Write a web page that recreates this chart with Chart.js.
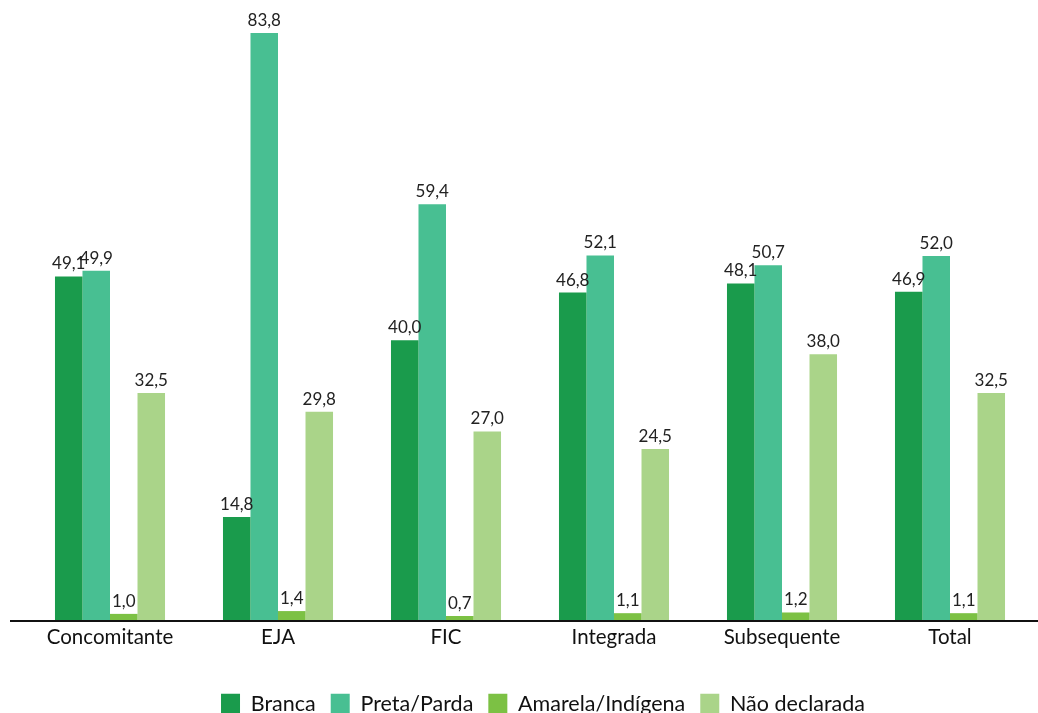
<!DOCTYPE html>
<html>
<head>
<meta charset="utf-8">
<script src="https://cdn.jsdelivr.net/npm/chart.js@4"></script>
<style>
  html, body { margin: 0; padding: 0; background: #fff; overflow: hidden; }
  #wrap { width: 1038px; height: 713px; overflow: hidden; }
</style>
</head>
<body>
<div id="wrap"><canvas id="myChart" width="1038" height="725"></canvas></div>
<script>
// categorias e series
var categorias = ['Concomitante', 'EJA', 'FIC', 'Integrada', 'Subsequente', 'Total'];
var branca = [49.1, 14.8, 40.0, 46.8, 48.1, 46.9];
var pretaParda = [49.9, 83.8, 59.4, 52.1, 50.7, 52.0];
var amarelaIndigena = [1.0, 1.4, 0.7, 1.1, 1.2, 1.1];
var naoDeclarada = [32.5, 29.8, 27.0, 24.5, 38.0, 32.5];

var fonte = 'Lato, "Noto Sans", sans-serif';

// rotulos de valor em cima das barras
var rotulos = {
	id: 'rotulos',
	afterDatasetsDraw: function(chart){
		var ctx = chart.ctx;
		ctx.save();
		ctx.font = '17px ' + fonte;
		ctx.fillStyle = '#222';
		ctx.textAlign = 'center';
		ctx.textBaseline = 'bottom';
		chart.data.datasets.forEach(function(ds, i){
			var meta = chart.getDatasetMeta(i);
			meta.data.forEach(function(bar, j){
				var txt = ds.data[j].toFixed(1).replace('.', ',');
				ctx.fillText(txt, bar.x, bar.y - 4);
			});
		});
		ctx.restore();
	}
};

// linha do eixo x, um pouco mais larga que a area
var eixo = {
	id: 'eixo',
	afterLayout: function(chart){
		// legenda um pouco deslocada para a direita
		chart.legend.left += 13;
		chart.legend.right += 13;
	},
	afterDatasetsDraw: function(chart){
		var ctx = chart.ctx;
		var y = chart.scales.y.getPixelForValue(0);
		ctx.save();
		ctx.strokeStyle = '#111';
		ctx.lineWidth = 2;
		ctx.beginPath();
		ctx.moveTo(10, y);
		ctx.lineTo(chart.width, y);
		ctx.stroke();
		ctx.restore();
	}
};

var ctx = document.getElementById('myChart').getContext('2d');
var chart = new Chart(ctx, {
	type: 'bar',
	data: {
		labels: categorias,
		datasets: [
			{ label: 'Branca', data: branca, backgroundColor: '#1a9b4c' },
			{ label: 'Preta/Parda', data: pretaParda, backgroundColor: '#48bf92' },
			{ label: 'Amarela/Indígena', data: amarelaIndigena, backgroundColor: '#7cc144' },
			{ label: 'Não declarada', data: naoDeclarada, backgroundColor: '#aad489' }
		]
	},
	plugins: [rotulos, eixo],
	options: {
		responsive: false,
		animation: false,
		layout: { padding: { left: 26, right: 4, top: 0, bottom: 0 } },
		datasets: {
			bar: { categoryPercentage: 0.655, barPercentage: 1.0 }
		},
		scales: {
			x: {
				grid: { display: false, drawTicks: false },
				border: { display: false },
				ticks: { color: '#111', font: { family: fonte, size: 20.5 }, padding: 4 },
				afterFit: function(scale){ scale.height += 25; }
			},
			y: {
				display: false,
				min: 0,
				max: 88.5
			}
		},
		plugins: {
			tooltip: { enabled: false },
			legend: {
				position: 'bottom',
				labels: {
					color: '#111',
					boxWidth: 19,
					boxHeight: 21,
					padding: 15,
					font: { family: fonte, size: 21.5 }
				}
			}
		}
	}
});
</script>
</body>
</html>
